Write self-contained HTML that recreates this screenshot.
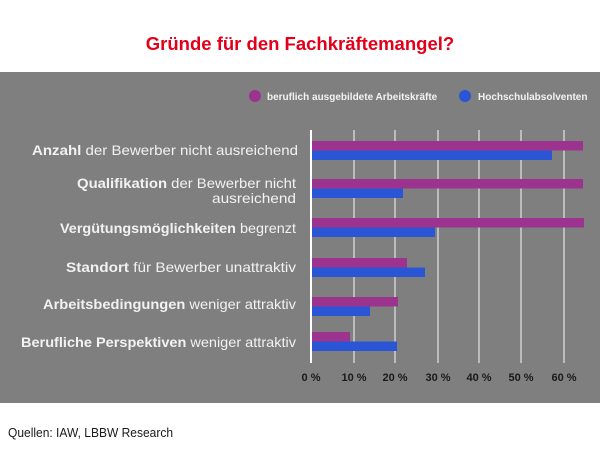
<!DOCTYPE html>
<html><head><meta charset="utf-8"><style>
body{margin:0;background:#fff;width:600px;height:461px;overflow:hidden;font-family:"Liberation Sans",sans-serif}
</style></head><body>
<svg width="600" height="461" xmlns="http://www.w3.org/2000/svg" font-family="Liberation Sans, sans-serif">
<rect width="600" height="461" fill="#fff"/>
<text x="300" y="50" text-anchor="middle" font-size="18.5" font-weight="bold" fill="#e2001a">Gründe für den Fachkräftemangel?</text>
<rect x="0" y="72" width="600" height="331" fill="#7f7f7f"/>
<circle cx="255" cy="96" r="6" fill="#9b338f"/>
<text x="267" y="100" font-size="10" font-weight="bold" fill="#f2f2f2">beruflich ausgebildete Arbeitskräfte</text>
<circle cx="465" cy="96" r="6" fill="#2a55d4"/>
<text x="478" y="100" font-size="10" font-weight="bold" fill="#f2f2f2">Hochschulabsolventen</text>
<g stroke="#d0d0d0" stroke-width="1.5">
<line x1="354" y1="130" x2="354" y2="363"/><line x1="395" y1="130" x2="395" y2="363"/>
<line x1="438" y1="130" x2="438" y2="363"/><line x1="479" y1="130" x2="479" y2="363"/>
<line x1="521" y1="130" x2="521" y2="363"/><line x1="564" y1="130" x2="564" y2="363"/>
</g>
<line x1="311" y1="130" x2="311" y2="363" stroke="#fff" stroke-width="2"/>
<g fill="#9b338f">
<rect x="312" y="141" width="271" height="9.5"/><rect x="312" y="179" width="271" height="9.5"/>
<rect x="312" y="218" width="272" height="9.5"/><rect x="312" y="258" width="95" height="9.5"/>
<rect x="312" y="297" width="86" height="9.5"/><rect x="312" y="332" width="38" height="9.5"/>
</g>
<g fill="#2a55d4">
<rect x="312" y="150.5" width="240" height="9.5"/><rect x="312" y="188.5" width="91" height="9.5"/>
<rect x="312" y="227.5" width="123" height="9.5"/><rect x="312" y="267.5" width="113" height="9.5"/>
<rect x="312" y="306.5" width="58" height="9.5"/><rect x="312" y="341.5" width="85" height="9.5"/>
</g>
<g font-size="11" font-weight="bold" fill="#1a1a1a" text-anchor="middle">
<text x="311" y="381">0 %</text><text x="354" y="381">10 %</text><text x="395" y="381">20 %</text>
<text x="438" y="381">30 %</text><text x="479" y="381">40 %</text><text x="521" y="381">50 %</text><text x="564" y="381">60 %</text>
</g>
<g font-size="14" fill="#f2f2f2">
<text x="32" y="155" textLength="266" lengthAdjust="spacingAndGlyphs"><tspan font-weight="bold">Anzahl</tspan> der Bewerber nicht ausreichend</text>
<text x="77" y="188" textLength="219" lengthAdjust="spacingAndGlyphs"><tspan font-weight="bold">Qualifikation</tspan> der Bewerber nicht</text>
<text x="212" y="203" textLength="84" lengthAdjust="spacingAndGlyphs">ausreichend</text>
<text x="60" y="233" textLength="236" lengthAdjust="spacingAndGlyphs"><tspan font-weight="bold">Vergütungsmöglichkeiten</tspan> begrenzt</text>
<text x="66" y="272" textLength="230" lengthAdjust="spacingAndGlyphs"><tspan font-weight="bold">Standort</tspan> für Bewerber unattraktiv</text>
<text x="43" y="309" textLength="253" lengthAdjust="spacingAndGlyphs"><tspan font-weight="bold">Arbeitsbedingungen</tspan> weniger attraktiv</text>
<text x="21" y="347" textLength="275" lengthAdjust="spacingAndGlyphs"><tspan font-weight="bold">Berufliche Perspektiven</tspan> weniger attraktiv</text>
</g>
<text x="8" y="437" font-size="12.5" fill="#1a1a1a" textLength="165" lengthAdjust="spacingAndGlyphs">Quellen: IAW, LBBW Research</text>
</svg>
</body></html>
